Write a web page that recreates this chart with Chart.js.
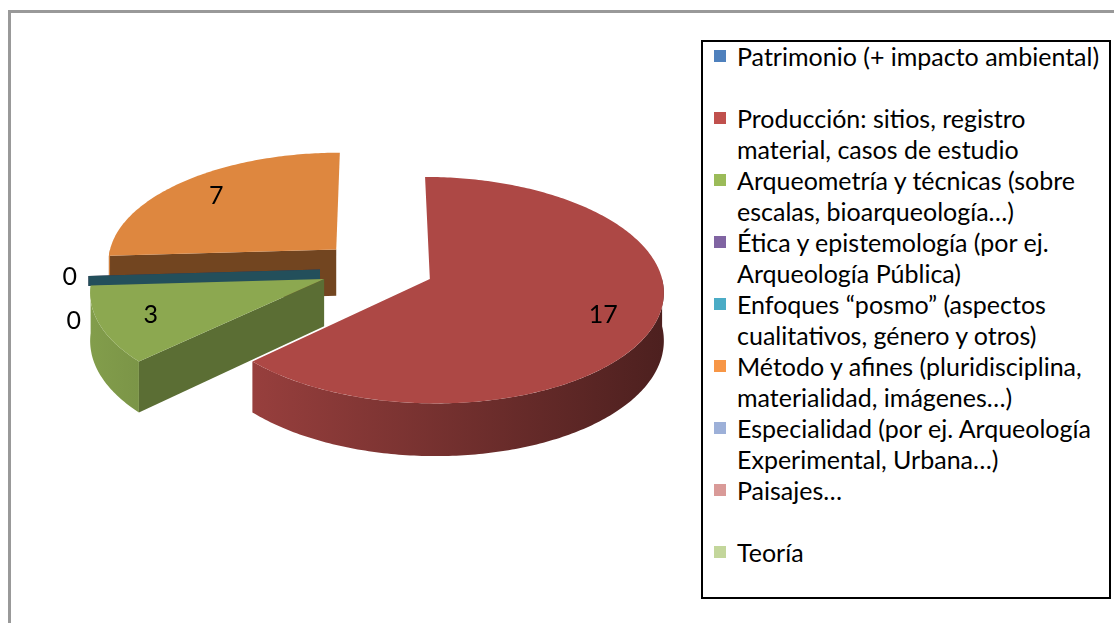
<!DOCTYPE html>
<html>
<head>
<meta charset="utf-8">
<script src="https://cdn.jsdelivr.net/npm/chart.js@4"></script>
<style>
    body { margin: 0; background: #fff; }
    #wrap { position: relative; width: 1114px; height: 623px; overflow: hidden; font-family: Lato, "Open Sans", sans-serif; color: #000; }
    #frame { position: absolute; left: 8px; top: 10px; width: 1200px; height: 700px; border-left: 3px solid #999; border-top: 3px solid #999; }
    #pie { position: absolute; left: 0; top: 0; }
    #legend { position: absolute; left: 701px; top: 40px; width: 406px; height: 555px; border: 2px solid #000; background: #fff; font-size: 25px; line-height: 31px; }
    .item { position: absolute; left: 0; width: 406px; height: 62px; white-space: nowrap; }
    .box { position: absolute; left: 11px; top: 9px; width: 12px; height: 12px; }
    .txt { position: absolute; left: 34px; top: 0; }
</style>
</head>
<body>
<div id="wrap">
    <div id="frame"></div>
    <canvas id="pie" width="754" height="536"></canvas>
    <div id="legend"></div>
</div>
<script>
// categories (legend lines as shown)
var categories = [
    ['Patrimonio (+ impacto ambiental)'],
    ['Producción: sitios, registro', 'material, casos de estudio'],
    ['Arqueometría y técnicas (sobre', 'escalas, bioarqueología…)'],
    ['Ética y epistemología (por ej.', 'Arqueología Pública)'],
    ['Enfoques “posmo” (aspectos', 'cualitativos, género y otros)'],
    ['Método y afines (pluridisciplina,', 'materialidad, imágenes…)'],
    ['Especialidad (por ej. Arqueología', 'Experimental, Urbana…)'],
    ['Paisajes…'],
    ['Teoría']
];
// null = empty cell (no slice, no label)
var values = [null, 17, 3, 0, 0, 7, null, null, null];
var colors = ['#4F81BD', '#C0504D', '#9BBB59', '#8064A2', '#4BACC6', '#F79646', '#9DB0D8', '#D99A98', '#C3D69B'];

var TILT = 0.478;   // vertical squash of the pie plane
var PERSP = 2330;   // perspective distance
var DEPTH = 47;     // thickness of the pie

function shade(hex, f) {
    var n = parseInt(hex.slice(1), 16);
    var r = Math.round(((n >> 16) & 255) * f);
    var g = Math.round(((n >> 8) & 255) * f);
    var b = Math.round((n & 255) * f);
    return 'rgb(' + r + ',' + g + ',' + b + ')';
}

// legend
var legend = document.getElementById('legend');
for (var i = 0; i < categories.length; i++) {
    var item = document.createElement('div');
    item.className = 'item';
    item.style.top = (i * 62 - 1) + 'px';
    item.innerHTML = '<div class="box" style="background:' + colors[i] + '"></div>' +
        '<div class="txt">' + categories[i].join('<br>') + '</div>';
    legend.appendChild(item);
}

// draws a tilted, exploded 3d pie from the arc elements chart.js laid out
var pie3d = {
    id: 'pie3d',
    beforeDatasetsDraw: function(chart) {
        var ctx = chart.ctx;
        var meta = chart.getDatasetMeta(0);
        var cx = 0, cy = 0;

        function proj(X, Z, h) {
            var s = 1 / (1 - Z / PERSP);
            return [cx + X * s, cy + (Z * TILT + h) * s];
        }

        var slices = [];
        meta.data.forEach(function(arc, i) {
            if (values[i] === null) return;
            var p = arc.getProps(['x', 'y', 'startAngle', 'endAngle', 'outerRadius']);
            cx = p.x; cy = p.y;
            var off = arc.options.offset || 0;
            var mid = (p.startAngle + p.endAngle) / 2;
            slices.push({
                i: i, a0: p.startAngle, a1: p.endAngle, mid: mid, r: p.outerRadius,
                X: Math.cos(mid) * off, Z: Math.sin(mid) * off,
                color: colors[i]
            });
        });

        function rim(s, a, b, h, path, first) {
            var n = Math.max(2, Math.ceil(Math.abs(b - a) / 0.015));
            for (var j = 0; j <= n; j++) {
                var t = a + (b - a) * j / n;
                var pt = proj(s.X + s.r * Math.cos(t), s.Z + s.r * Math.sin(t), h);
                if (first && j === 0) path.moveTo(pt[0], pt[1]);
                else path.lineTo(pt[0], pt[1]);
            }
        }

        function radialWall(s, ang, h) {
            var c = proj(s.X, s.Z, 0), cb = proj(s.X, s.Z, h);
            ctx.beginPath();
            ctx.moveTo(c[0], c[1]);
            rim(s, ang, ang, 0, ctx, false);
            rim(s, ang, ang, h, ctx, false);
            ctx.lineTo(cb[0], cb[1]);
            ctx.closePath();
            ctx.fillStyle = shade(s.color, 0.45 + 0.2 * Math.max(0, Math.sin(ang)));
            ctx.fill();
        }

        // back to front
        var order = slices.slice().sort(function(a, b) {
            return (Math.sin(a.mid) - Math.sin(b.mid)) || (a.i - b.i);
        });

        order.forEach(function(s) {
            var empty = !(s.a1 > s.a0);
            // a zero slice only shows a thin sliver of its wall
            var h = empty ? 10 : DEPTH;
            if (Math.cos(s.a0) < 0) radialWall(s, s.a0, h);
            if (Math.cos(s.a1) > 0) radialWall(s, s.a1, h);
            var c0 = Math.max(s.a0, 0), c1 = Math.min(s.a1, Math.PI);
            if (c1 > c0) {
                var l = proj(s.X - s.r, s.Z, 0), rr = proj(s.X + s.r, s.Z, 0);
                var g = ctx.createLinearGradient(l[0], 0, rr[0], 0);
                g.addColorStop(0, shade(s.color, 0.84));
                g.addColorStop(1, shade(s.color, 0.40));
                ctx.beginPath();
                rim(s, c0, c1, 0, ctx, true);
                rim(s, c1, c0, DEPTH, ctx, false);
                ctx.closePath();
                ctx.fillStyle = g;
                ctx.fill();
            }
            if (!empty) {
                var c = proj(s.X, s.Z, 0);
                ctx.beginPath();
                ctx.moveTo(c[0], c[1]);
                rim(s, s.a0, s.a1, 0, ctx, false);
                ctx.closePath();
                ctx.fillStyle = shade(s.color, 0.9);
                ctx.fill();
            }
        });

        // value labels
        ctx.font = '25px Lato, "Open Sans", sans-serif';
        ctx.fillStyle = '#000';
        ctx.textAlign = 'center';
        ctx.textBaseline = 'middle';
        var placed = [];
        slices.forEach(function(s) {
            var f = s.a1 > s.a0 ? 0.78 : 1.08;
            var pt = proj(s.X + Math.cos(s.mid) * s.r * f, s.Z + Math.sin(s.mid) * s.r * f, 0);
            var lx = pt[0], ly = pt[1];
            placed.forEach(function(q) {
                if (Math.abs(q[0] - lx) < 30 && Math.abs(q[1] - ly) < 30) { ly += 44; lx += 4; }
            });
            placed.push([lx, ly]);
            ctx.fillText(String(values[s.i]), lx, ly);
        });
        return false;
    }
};

var chart = new Chart(document.getElementById('pie'), {
    type: 'pie',
    data: {
        labels: categories.map(function(l) { return l.join(' '); }),
        datasets: [{
            data: values,
            backgroundColor: colors,
            borderWidth: 0,
            offset: 57
        }]
    },
    options: {
        responsive: false,
        animation: false,
        radius: 230,
        layout: { padding: 0 },
        plugins: {
            legend: { display: false },
            tooltip: { enabled: false }
        }
    },
    plugins: [pie3d]
});
</script>
</body>
</html>
